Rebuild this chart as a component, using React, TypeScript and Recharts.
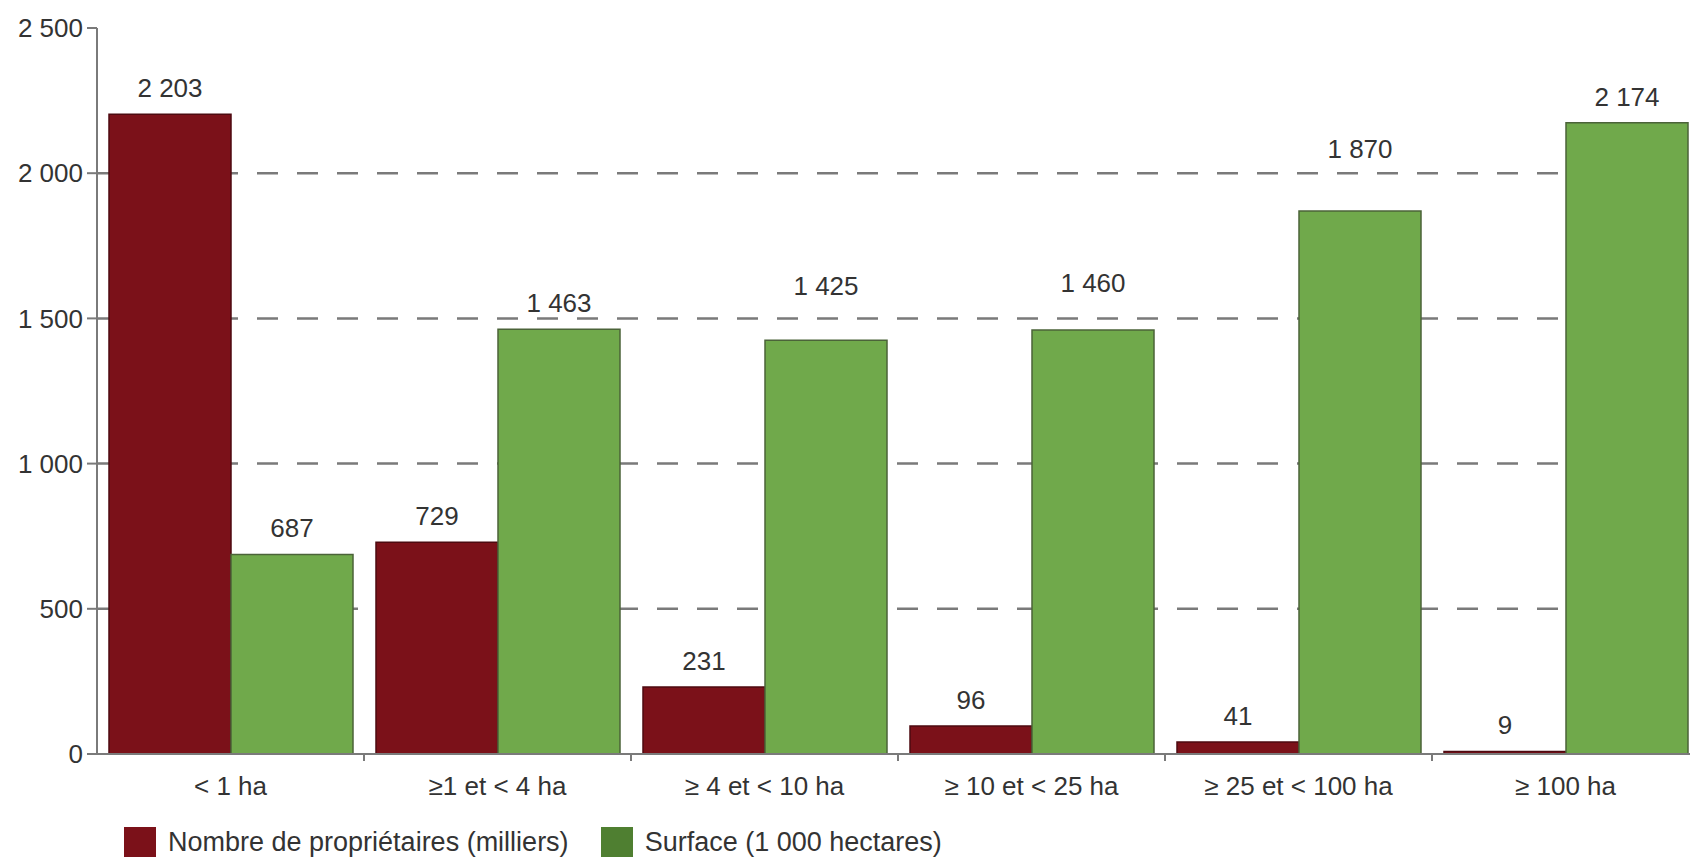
import React from 'react';
import { BarChart, Bar, XAxis, YAxis, CartesianGrid, Legend, LabelList } from 'recharts';

const categories = ['< 1 ha', '≥1 et < 4 ha', '≥ 4 et < 10 ha', '≥ 10 et < 25 ha', '≥ 25 et < 100 ha', '≥ 100 ha'];
const proprietaires = [2203, 729, 231, 96, 41, 9];
const surface = [687, 1463, 1425, 1460, 1870, 2174];
const yTicks = [0, 500, 1000, 1500, 2000, 2500];
const gridValues = [500, 1000, 1500, 2000];
const seriesNames = ['Nombre de propriétaires (milliers)', 'Surface (1 000 hectares)'];
// extra vertical nudge (px) of the surface value labels, as placed in the original
const surfaceLabelRaise = [0, 0, 28, 21, 36, 0];

const data = categories.map((c, i) => ({ cat: c, prop: proprietaires[i], surf: surface[i] }));

const FONT = '"Liberation Sans", Arial, Helvetica, sans-serif';
const TEXT = '#333333';
const AXIS = '#7a7a7a';
const RED = '#7b1119';
const GREEN = '#70a94b';
const LEGEND_GREEN = '#4f7f31';

const fmt = (v: number) => {
  if (v >= 1000) {
    return `${Math.floor(v / 1000)} ${String(v % 1000).padStart(3, '0')}`;
  }
  return String(v);
};

const XTick = (props: any) => {
  const { x, y, payload } = props;
  const half = payload && typeof payload.offset === 'number' && payload.offset > 0 ? payload.offset : 133.5;
  return (
    <g>
      <line x1={x + half} x2={x + half} y1={y} y2={y + 7} stroke={AXIS} strokeWidth={2} />
      <text x={x} y={y + 41} textAnchor="middle" fill={TEXT} fontSize={26} fontFamily={FONT}>
        {payload.value}
      </text>
    </g>
  );
};

const makeLabel = (raise: number[]) => (props: any) => {
  const { x, y, width, value, index } = props;
  const r = raise[index] || 0;
  return (
    <text
      x={x + width / 2}
      y={y - 26 - r + 9}
      textAnchor="middle"
      fill={TEXT}
      fontSize={26}
      fontFamily={FONT}
    >
      {fmt(value)}
    </text>
  );
};

const zeroRaise = [0, 0, 0, 0, 0, 0];

const LegendContent = () => {
  const items = [
    { name: seriesNames[0], color: RED },
    { name: seriesNames[1], color: LEGEND_GREEN },
  ];
  return (
    <div style={{ display: 'flex', alignItems: 'center', height: 40, fontFamily: FONT, fontSize: 27, color: TEXT }}>
      {items.map((it, i) => (
        <div key={i} style={{ display: 'flex', alignItems: 'center', marginRight: 32 }}>
          <div style={{ width: 32, height: 30, background: it.color, marginRight: 12 }} />
          <span style={{ whiteSpace: 'nowrap' }}>{it.name}</span>
        </div>
      ))}
    </div>
  );
};

export default function App() {
  return (
    <div style={{ position: 'absolute', left: 0, top: 0, width: 1690, height: 860, overflow: 'hidden', background: '#fff' }}>
      <BarChart
        width={1710}
        height={860}
        data={data}
        margin={{ top: 28, right: 11, left: 7, bottom: 6 }}
        barCategoryGap={12}
        barGap={0}
      >
        <CartesianGrid
          vertical={false}
          horizontalValues={gridValues}
          stroke={AXIS}
          strokeWidth={2.5}
          strokeDasharray="21 19"
        />
        <XAxis
          dataKey="cat"
          height={60}
          tickLine={false}
          tickSize={0}
          tickMargin={0}
          axisLine={{ stroke: AXIS, strokeWidth: 2 }}
          tick={<XTick />}
          interval={0}
        />
        <YAxis
          width={90}
          domain={[0, 2500]}
          ticks={yTicks}
          tickFormatter={fmt}
          tickSize={10}
          tickMargin={4}
          axisLine={{ stroke: AXIS, strokeWidth: 2 }}
          tickLine={{ stroke: AXIS, strokeWidth: 2 }}
          tick={{ fill: TEXT, fontSize: 26, fontFamily: FONT }}
          interval={0}
        />
        <Legend
          verticalAlign="bottom"
          align="left"
          height={40}
          content={<LegendContent />}
          wrapperStyle={{ top: 822, left: 124, bottom: 'auto', width: 'auto' }}
        />
        <Bar dataKey="prop" name={seriesNames[0]} fill={RED} stroke="#4d0a10" strokeWidth={1.5} isAnimationActive={false}>
          <LabelList dataKey="prop" content={makeLabel(zeroRaise)} />
        </Bar>
        <Bar dataKey="surf" name={seriesNames[1]} fill={GREEN} stroke="#4b6339" strokeWidth={1.5} isAnimationActive={false}>
          <LabelList dataKey="surf" content={makeLabel(surfaceLabelRaise)} />
        </Bar>
      </BarChart>
    </div>
  );
}
